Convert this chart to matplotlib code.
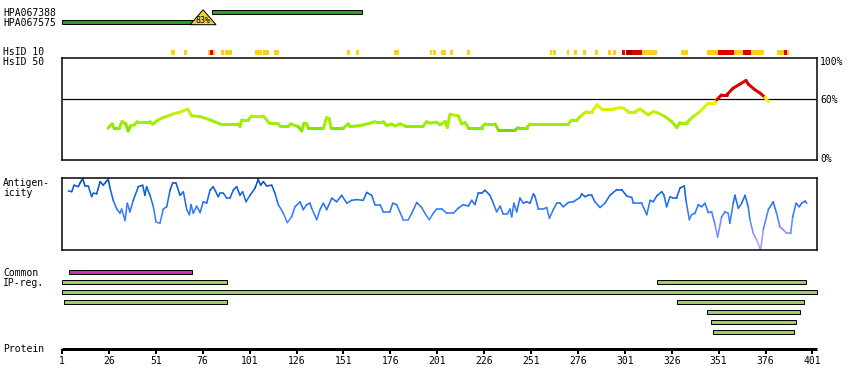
import matplotlib
matplotlib.use('Agg')
import matplotlib.pyplot as plt
import numpy as np
from matplotlib.collections import LineCollection
from matplotlib.colors import LinearSegmentedColormap, Normalize
from matplotlib.patches import Polygon

# ---------------- data ----------------
PROTEIN_LENGTH = 403
tick_positions = list(range(1, 402, 25))

antibodies = ['HPA067388', 'HPA067575']
ab_start = [81, 1]
ab_end = [161, 73]
identity_pos = 76.2
identity_label = '83%'

hs10_start = [59.1, 66.0, 78.8, 79.9, 81.3, 85.8, 87.9, 103.9, 108.1, 114.0,
              152.9, 157.7, 178.0, 197.2, 198.8, 203.0, 207.8, 216.9, 261.1, 262.7,
              270.2, 273.9, 278.7, 285.1, 292.0, 294.7, 299.6, 301.8, 305.0, 310.3,
              330.9, 344.8, 350.7, 359.2, 364.0, 368.3, 382.1, 385.9, 387.5]
hs10_end = [61.2, 67.6, 79.9, 81.3, 82.6, 87.4, 91.6, 107.6, 111.3, 116.7,
            154.5, 159.3, 180.6, 198.2, 200.4, 205.7, 209.4, 218.5, 262.2, 264.3,
            271.3, 275.5, 280.3, 286.7, 293.6, 296.3, 301.3, 305.0, 310.3, 318.3,
            334.7, 350.7, 359.2, 364.0, 368.3, 375.2, 385.9, 387.5, 388.5]
hs10_level = [0, 0, 0, 1, 0, 0, 0, 0, 0, 0,
              0, 0, 0, 0, 0, 0, 0, 0, 0, 0,
              0, 0, 0, 0, 0, 0, 1, 2, 1, 0,
              0, 0, 1, 0, 1, 0, 0, 1, 0]

hs50_pos = [25.5, 27.7, 28.7, 31.4, 33.1, 35.0, 36.3, 37.6, 39.5, 41.1,
            47.9, 49.3, 52.3, 55.0, 57.7, 60.3, 63.9, 68.0, 70.1, 74.6,
            79.9, 85.2, 95.0, 95.9, 96.8, 100.3, 102.1, 108.3, 111.5, 116.3,
            117.2, 121.6, 122.9, 126.9, 128.8, 130.0, 131.4, 132.3, 140.3, 142.1,
            143.5, 144.4, 150.9, 153.6, 154.5, 159.8, 165.2, 167.8, 172.3, 174.1,
            176.7, 178.5, 181.2, 183.8, 193.6, 195.4, 197.2, 200.7, 202.5, 205.2,
            206.4, 207.8, 212.2, 214.1, 215.8, 217.6, 224.7, 226.5, 231.8, 233.6,
            242.5, 244.2, 248.7, 250.5, 270.9, 272.7, 275.3, 278.9, 280.7, 283.4,
            286.3, 288.7, 294.9, 298.4, 300.2, 302.9, 306.4, 309.1, 310.9, 313.5,
            316.2, 318.9, 322.4, 326.0, 328.7, 330.4, 334.0, 337.5, 341.1, 345.5,
            349.1, 350.0, 352.6, 355.3, 358.8, 362.4, 365.6, 366.8, 370.4, 373.1,
            375.7, 377.5]
hs50_pct = [31.2, 35.4, 31.2, 31.2, 37.7, 35.4, 28.5, 33.7, 34.4, 37.7,
            37.7, 35.1, 39.3, 41.6, 43.3, 45.2, 46.9, 49.9, 43.3, 42.6,
            39.3, 35.4, 35.4, 32.7, 39.3, 39.3, 43.3, 43.3, 36.1, 35.4,
            33.4, 33.4, 35.4, 32.7, 28.5, 36.1, 35.4, 31.2, 31.2, 41.6,
            40.3, 31.2, 31.2, 35.4, 32.7, 33.7, 36.1, 37.7, 37.7, 33.7,
            35.4, 33.4, 35.4, 33.4, 33.4, 37.7, 36.1, 37.1, 34.4, 37.7,
            31.8, 44.9, 43.3, 35.4, 36.7, 31.8, 31.8, 35.4, 35.4, 29.5,
            29.5, 31.8, 31.8, 35.4, 35.4, 39.3, 39.3, 45.2, 47.5, 47.5,
            54.1, 49.9, 49.9, 51.4, 50.8, 47.5, 47.5, 49.9, 47.5, 44.2,
            47.5, 45.9, 42.6, 37.7, 31.8, 36.7, 36.7, 42.6, 47.5, 55.8,
            55.8, 59.0, 63.9, 63.9, 70.5, 74.4, 78.0, 74.4, 68.8, 65.6,
            61.3, 57.3]

ag_pos = [4.4, 6.2, 7.4, 9.7, 10.6, 12.0, 13.3, 15.0, 16.8, 17.7,
          19.5, 21.3, 23.0, 24.5, 25.7, 26.6, 28.3, 30.2, 31.9, 32.8,
          34.6, 35.8, 37.2, 39.0, 41.7, 44.0, 45.2, 46.1, 47.9, 49.7,
          51.1, 53.2, 55.0, 56.8, 58.6, 60.0, 61.8, 63.9, 65.7, 67.5,
          68.9, 69.8, 71.0, 72.8, 74.6, 76.3, 78.1, 79.9, 81.6, 84.3,
          85.2, 87.0, 88.8, 90.5, 92.3, 94.1, 95.9, 97.3, 99.1, 101.2,
          103.9, 105.6, 106.9, 108.3, 110.1, 112.8, 114.5, 116.3, 119.0, 121.1,
          123.4, 125.2, 127.9, 129.6, 131.4, 133.2, 134.1, 136.8, 138.5, 140.3,
          142.1, 144.8, 147.4, 150.1, 152.8, 155.4, 158.1, 161.6, 163.4, 166.1,
          167.8, 170.5, 172.3, 175.8, 177.3, 179.4, 182.9, 185.6, 187.4, 190.1,
          192.7, 194.5, 196.8, 198.9, 200.7, 203.4, 206.1, 209.6, 212.2, 214.9,
          217.6, 219.4, 221.1, 222.9, 224.7, 226.5, 229.1, 230.6, 232.7, 234.5,
          236.2, 238.4, 239.8, 240.7, 241.9, 243.4, 245.1, 246.9, 248.7, 250.5,
          252.3, 253.2, 254.9, 257.6, 259.4, 260.8, 262.9, 264.7, 266.5, 268.2,
          270.9, 273.6, 277.1, 278.0, 279.8, 281.5, 283.3, 285.1, 287.8, 290.4,
          293.1, 296.7, 299.3, 302.0, 304.7, 305.6, 310.0, 312.7, 314.5, 316.2,
          318.0, 320.7, 321.9, 323.3, 325.1, 326.9, 328.6, 330.4, 332.7, 333.6,
          335.4, 336.6, 338.4, 340.2, 342.0, 343.7, 345.5, 347.3, 349.1, 350.5,
          352.6, 354.4, 356.1, 357.0, 358.8, 359.7, 361.5, 363.3, 365.1, 366.8,
          367.7, 369.5, 371.3, 373.4, 374.8, 377.5, 380.1, 381.9, 383.7, 385.5,
          387.3, 389.4, 390.5, 392.3, 394.0, 395.3, 397.1, 398.0]
ag_score = [0.82, 0.81, 0.90, 0.88, 0.93, 0.99, 0.89, 0.89, 0.74, 0.79,
            0.78, 0.95, 0.90, 0.95, 0.98, 0.86, 0.69, 0.57, 0.51, 0.57,
            0.41, 0.65, 0.53, 0.69, 0.88, 0.90, 0.76, 0.88, 0.76, 0.60,
            0.39, 0.37, 0.57, 0.60, 0.83, 0.93, 0.93, 0.76, 0.81, 0.56,
            0.49, 0.63, 0.51, 0.61, 0.52, 0.67, 0.65, 0.83, 0.88, 0.74,
            0.79, 0.79, 0.72, 0.72, 0.83, 0.88, 0.76, 0.81, 0.67, 0.76,
            0.86, 0.98, 0.90, 0.95, 0.89, 0.90, 0.79, 0.63, 0.51, 0.38,
            0.46, 0.60, 0.67, 0.56, 0.63, 0.65, 0.58, 0.42, 0.56, 0.65,
            0.56, 0.72, 0.67, 0.76, 0.65, 0.69, 0.70, 0.69, 0.80, 0.76,
            0.63, 0.63, 0.53, 0.53, 0.65, 0.63, 0.42, 0.42, 0.51, 0.66,
            0.59, 0.51, 0.42, 0.51, 0.57, 0.57, 0.51, 0.51, 0.58, 0.63,
            0.61, 0.69, 0.63, 0.79, 0.79, 0.83, 0.76, 0.67, 0.53, 0.61,
            0.50, 0.50, 0.57, 0.46, 0.65, 0.53, 0.72, 0.65, 0.67, 0.65,
            0.78, 0.74, 0.57, 0.57, 0.59, 0.44, 0.56, 0.65, 0.65, 0.60,
            0.66, 0.67, 0.73, 0.78, 0.74, 0.76, 0.76, 0.67, 0.59, 0.65,
            0.76, 0.84, 0.84, 0.75, 0.73, 0.65, 0.65, 0.49, 0.69, 0.67,
            0.75, 0.81, 0.76, 0.60, 0.74, 0.72, 0.72, 0.86, 0.89, 0.69,
            0.42, 0.49, 0.51, 0.63, 0.60, 0.65, 0.52, 0.53, 0.35, 0.18,
            0.46, 0.53, 0.51, 0.37, 0.65, 0.76, 0.58, 0.65, 0.76, 0.60,
            0.42, 0.23, 0.14, 0.00, 0.28, 0.56, 0.67, 0.51, 0.32, 0.28,
            0.23, 0.23, 0.46, 0.65, 0.60, 0.65, 0.68, 0.65]

common_start = [4.9]
common_end = [70.1]
ip_start = [1.2, 318.3, 1.2, 2.2, 329.0, 345.0, 347.1, 348.2]
ip_end = [89.1, 397.4, 403.3, 89.1, 396.3, 394.2, 392.1, 391.0]
ip_row = [0, 0, 1, 2, 2, 3, 4, 5]

assert len(hs50_pos) == len(hs50_pct)
assert len(ag_pos) == len(ag_score)

# ---------------- layout ----------------
W, H = 850, 390
FONT = 'DejaVu Sans Mono'
FS = 7
PX = 0.72  # points per pixel at 100 dpi
XMAX = 403.45

fig = plt.figure(figsize=(8.5, 3.9), dpi=100)
fig.patch.set_facecolor('white')

def fx(px):
    return px / W

def fy(py):
    return 1 - py / H

def label(x, y, s, **kw):
    fig.text(fx(x), fy(y), s, family=FONT, fontsize=FS, va='center', ha='left', **kw)

# track axes (y in pixel units for layout)
ax = fig.add_axes([fx(62), 0, fx(755), 1])
ax.set_xlim(1, XMAX)
ax.set_ylim(H, 0)
ax.axis('off')

# antibody bars
ab_y = [12.3, 22.3]
for s, e, y in zip(ab_start, ab_end, ab_y):
    ax.barh(y, e - s, left=s, height=4, color='#2AA01A', edgecolor='black',
            linewidth=1 * PX, clip_on=False)
half = 6.9
tri = Polygon([[identity_pos, 9.8], [identity_pos - half, 24.7], [identity_pos + half, 24.7]],
              closed=True, facecolor='#F2D23C', edgecolor='black', linewidth=1 * PX, zorder=5)
ax.add_patch(tri)
ax.text(identity_pos, 20.3, identity_label, family=FONT, fontsize=6, ha='center', va='center', zorder=6)

# HsID 10 blocks
lvl_colors = ['#FFCC22', '#E00000', '#A00000']
for s, e, l in zip(hs10_start, hs10_end, hs10_level):
    ax.barh(52.4, e - s, left=s, height=4.7, color=lvl_colors[l], linewidth=0)

# common + IP regions
for s, e in zip(common_start, common_end):
    ax.barh(272.3, e - s, left=s, height=4, color='#CC2FB0', edgecolor='black',
            linewidth=1 * PX, clip_on=False)
for s, e, r in zip(ip_start, ip_end, ip_row):
    ax.barh(282.3 + 10 * r, e - s, left=s, height=4, color='#A2CC62', edgecolor='black',
            linewidth=1 * PX, clip_on=False)

# protein axis
ax.plot([1, XMAX], [349.3, 349.3], color='black', linewidth=3 * PX,
        solid_capstyle='butt', clip_on=False)
for t in tick_positions:
    ax.plot([t, t], [349.3, 354], color='black', linewidth=2 * PX,
            solid_capstyle='butt', clip_on=False)
    ax.text(t, 361.5, str(t), family=FONT, fontsize=FS, ha='center', va='center')

# HsID 50 panel
ax2 = fig.add_axes([fx(62), fy(160), fx(755), 102 / H])
ax2.set_xlim(1, XMAX)
ax2.set_ylim(0, 100)
ax2.set_xticks([])
ax2.set_yticks([])
for sp in ax2.spines.values():
    sp.set_linewidth(1.5 * PX)
ax2.axhline(60, color='black', linewidth=1.2 * PX)
hs_cmap = LinearSegmentedColormap.from_list(
    'hs', [(0.0, '#55BB00'), (0.14, '#77DD00'), (0.25, '#99EE00'),
           (0.45, '#AAEE00'), (0.65, '#CCF000'), (0.8, '#E8F000'), (1.0, '#FFEE00')])
hs_cmap.set_over('#DD0000')
hx = np.array(hs50_pos)
hv = np.array(hs50_pct)
segs = np.stack([np.column_stack([hx[:-1], hv[:-1]]), np.column_stack([hx[1:], hv[1:]])], axis=1)
lc = LineCollection(segs, cmap=hs_cmap, norm=Normalize(25, 60), linewidth=3 * PX,
                    capstyle='round')
lc.set_array((hv[:-1] + hv[1:]) / 2)
ax2.add_collection(lc)

# antigenicity panel
ax3 = fig.add_axes([fx(62), fy(250), fx(755), 72 / H])
ax3.set_xlim(1, XMAX)
ax3.set_ylim(0, 1)
ax3.set_xticks([])
ax3.set_yticks([])
for sp in ax3.spines.values():
    sp.set_linewidth(1.5 * PX)
ag_cmap = LinearSegmentedColormap.from_list(
    'ag', [(0.0, '#BBAAFF'), (0.3, '#7A8CFF'), (0.5, '#3A7DFF'),
           (0.7, '#1E6EEE'), (0.88, '#0A58CC'), (1.0, '#0046AA')])
ax_ = np.array(ag_pos)
av = np.array(ag_score)
segs = np.stack([np.column_stack([ax_[:-1], av[:-1]]), np.column_stack([ax_[1:], av[1:]])], axis=1)
lc2 = LineCollection(segs, cmap=ag_cmap, norm=Normalize(0, 1), linewidth=1.6 * PX,
                     capstyle='round')
lc2.set_array((av[:-1] + av[1:]) / 2)
ax3.add_collection(lc2)

# left labels
label(3, 12.7, antibodies[0])
label(3, 22.7, antibodies[1])
label(3, 52.3, 'HsID 10')
label(3, 62.3, 'HsID 50')
label(3, 183.3, 'Antigen-')
label(3, 193.3, 'icity')
label(3, 272.7, 'Common')
label(3, 283.3, 'IP-reg.')
label(3, 349.3, 'Protein')

# right labels
label(820, 61.7, '100%')
label(820, 100.3, '60%')
label(820, 159.5, '0%')

fig.savefig('out.png', dpi=100, facecolor='white')
